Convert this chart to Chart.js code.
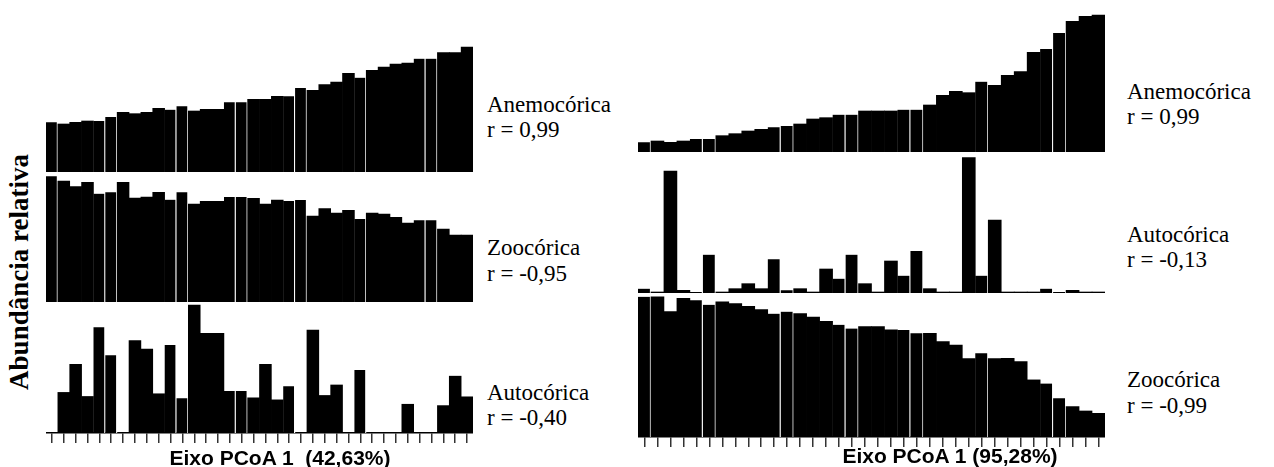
<!DOCTYPE html>
<html>
<head>
<meta charset="utf-8">
<script src="https://cdn.jsdelivr.net/npm/chart.js@4.4.0/dist/chart.umd.min.js"></script>
<style>
  body { margin: 0; background: #fff; width: 1274px; height: 467px; position: relative; overflow: hidden; }
  canvas { position: absolute; }
  .lbl { position: absolute; font-family: "Liberation Serif", "Times New Roman", serif; font-size: 23px; line-height: 23px; white-space: nowrap; color: #000; }
  .axt { position: absolute; font-family: "Liberation Sans", Arial, sans-serif; font-weight: bold; font-size: 21px; line-height: 21px; white-space: pre; color: #000; transform: translateX(-50%); }
  #ytitle { position: absolute; font-family: "Liberation Serif", "Times New Roman", serif; font-weight: bold; font-size: 27px; white-space: nowrap; left: 19px; top: 272px; transform: translate(-50%, -50%) rotate(-90deg); }
</style>
</head>
<body>
<canvas id="l1" width="427" height="132" style="left:46px;top:40px"></canvas>
<canvas id="l2" width="427" height="132" style="left:46px;top:170px"></canvas>
<canvas id="l3" width="427" height="148" style="left:46px;top:295px"></canvas>
<canvas id="r1" width="467" height="142" style="left:638px;top:10px"></canvas>
<canvas id="r2" width="467" height="143" style="left:638px;top:150px"></canvas>
<canvas id="r3" width="467" height="157" style="left:638px;top:290px"></canvas>

<div id="ytitle">Abundância relativa</div>

<div class="lbl" style="left:487px;top:93px">Anemocórica</div>
<div class="lbl" style="left:487px;top:118px">r = 0,99</div>
<div class="lbl" style="left:487px;top:236px">Zoocórica</div>
<div class="lbl" style="left:487px;top:262px">r = -0,95</div>
<div class="lbl" style="left:487px;top:381px">Autocórica</div>
<div class="lbl" style="left:487px;top:406px">r = -0,40</div>

<div class="lbl" style="left:1127px;top:80px">Anemocórica</div>
<div class="lbl" style="left:1127px;top:105px">r = 0,99</div>
<div class="lbl" style="left:1127px;top:223px">Autocórica</div>
<div class="lbl" style="left:1127px;top:248px">r = -0,13</div>
<div class="lbl" style="left:1127px;top:368px">Zoocórica</div>
<div class="lbl" style="left:1127px;top:394px">r = -0,99</div>

<div class="axt" style="left:280px;top:447px">Eixo PCoA 1  (42,63%)</div>
<div class="axt" style="left:950px;top:445px">Eixo PCoA 1 (95,28%)</div>

<script>
// 36 sites ordered along PCoA axis 1
const sites = ['1','2','3','4','5','6','7','8','9','10','11','12','13','14','15','16','17','18',
  '19','20','21','22','23','24','25','26','27','28','29','30','31','32','33','34','35','36'];

// left figure (PCoA 1, 42,63%) - relative abundance
const leftAnemo = [149,144,149,153,153,165,179,175,179,191,187,197,183,188,188,209,209,218,
  218,227,227,252,245,262,270,296,283,305,315,324,327,340,340,358,358,375];
const leftZoo = [377,363,346,359,325,329,359,312,315,329,307,329,294,302,302,315,315,311,
  294,306,303,306,258,280,267,275,249,267,264,254,237,245,245,219,201,201];
const leftAuto = [0,120,203,108,313,230,0,273,248,116,260,103,378,295,295,124,124,104,
  203,98,138,0,304,111,142,0,186,0,0,0,85,0,0,81,168,107];

// right figure (PCoA 1, 95,28%)
const rightAnemo = [29,33,29,33,39,39,49,55,63,68,74,78,84,99,103,112,112,123,
  123,123,127,127,141,170,182,178,211,200,230,241,299,309,357,392,407,411];
const rightAuto = [13,3,366,8,3,115,3,13,28,13,101,8,13,3,72,43,115,28,
  3,96,52,126,13,3,3,406,52,219,3,3,3,13,3,8,3,3];
const rightZoo = [415,415,371,410,405,391,400,395,387,377,365,371,365,355,342,332,321,327,
  327,317,317,307,307,282,272,232,248,232,233,223,169,158,115,90,77,70];

// sites followed by a white gap in the original figure
const gapAfter = [0,4,5,10,11,15,16,20,21,26,31,32];

function panel(id, values, yMax, showAxis) {
  new Chart(document.getElementById(id), {
    type: 'bar',
    data: {
      labels: sites,
      datasets: [{
        data: values,
        backgroundColor: '#000',
        borderColor: '#fff',
        borderSkipped: false,
        borderWidth: (c) => gapAfter.includes(c.dataIndex) ? { right: 1.4 } : 0,
        barPercentage: 1,
        categoryPercentage: 1
      }]
    },
    options: {
      responsive: false,
      animation: false,
      devicePixelRatio: 1,
      layout: { padding: 0 },
      plugins: { legend: { display: false }, tooltip: { enabled: false } },
      scales: {
        x: {
          display: showAxis,
          grid: { display: true, drawOnChartArea: false, drawTicks: true, tickLength: 10, offset: false, color: '#333', lineWidth: 1.5 },
          border: { display: true, color: '#000', width: 1.5 },
          ticks: { display: false }
        },
        y: { display: false, min: 0, max: yMax }
      }
    }
  });
}

panel('l1', leftAnemo, 396, false);
panel('l2', leftZoo, 396, false);
panel('l3', leftAuto, 408, true);
panel('r1', rightAnemo, 426, false);
panel('r2', rightAuto, 429, false);
panel('r3', rightZoo, 435, true);
</script>
</body>
</html>
